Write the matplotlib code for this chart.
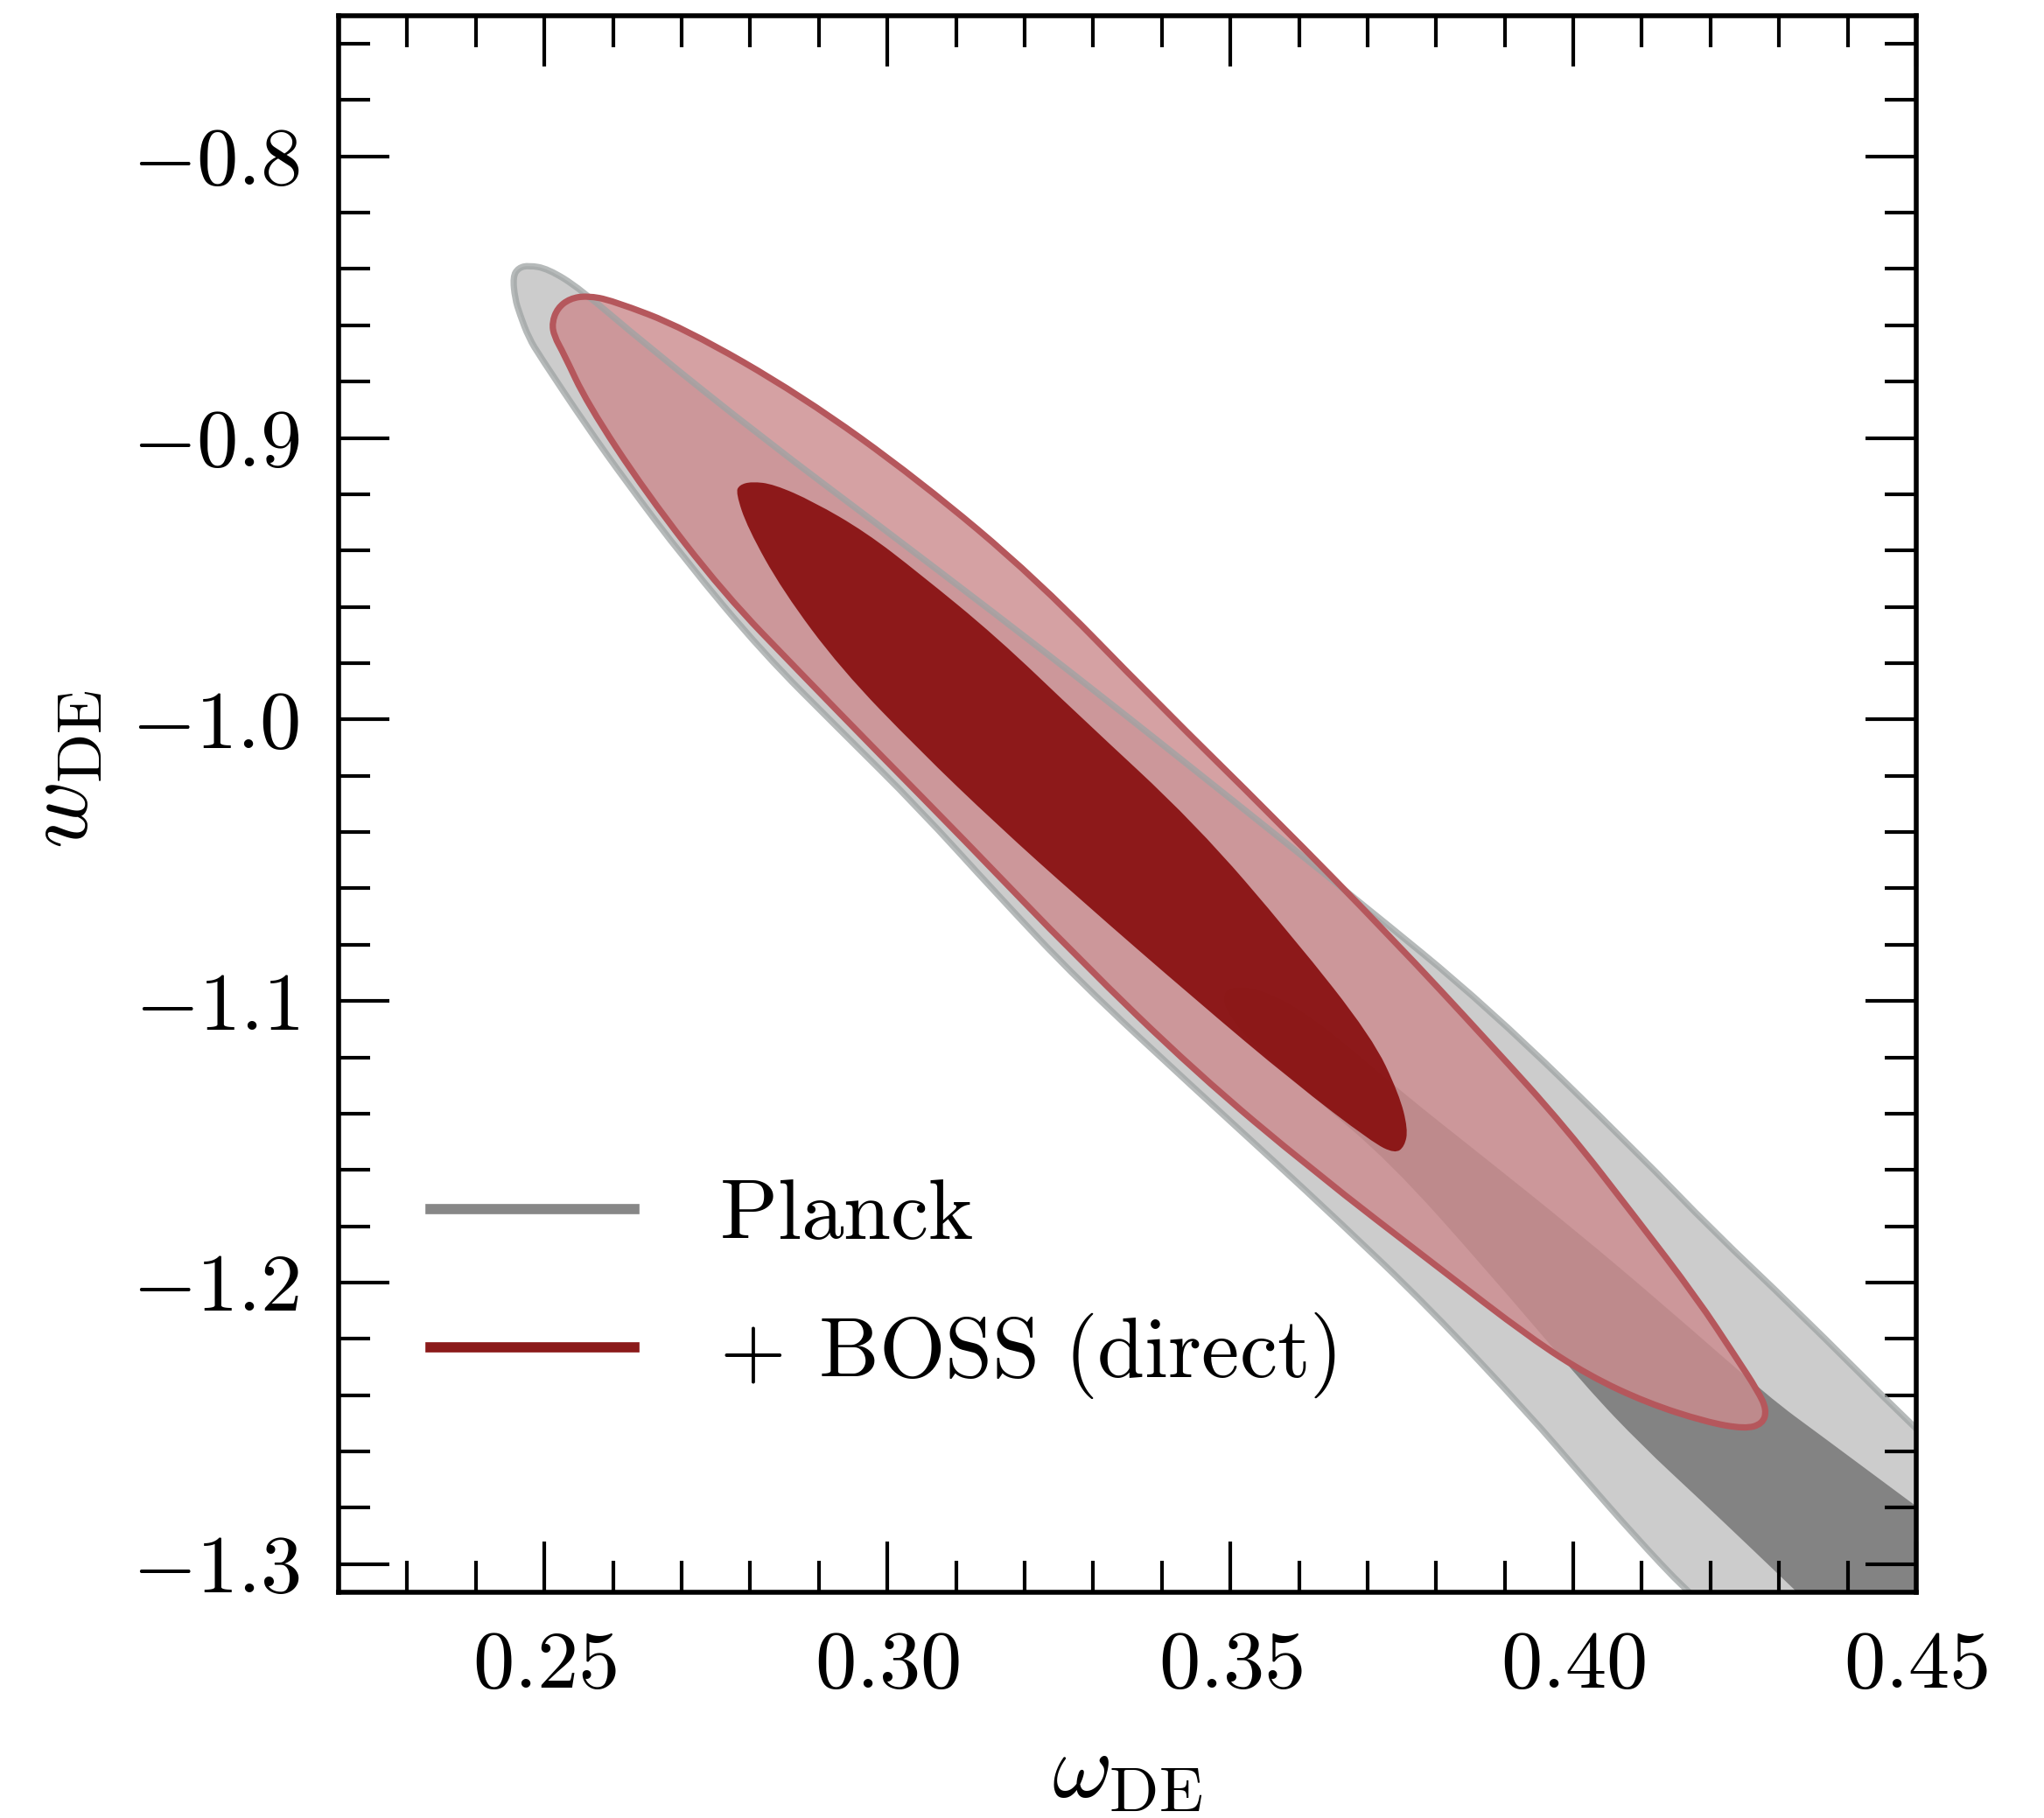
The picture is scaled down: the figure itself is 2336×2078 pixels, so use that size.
import matplotlib
matplotlib.use("Agg")
import matplotlib.pyplot as plt
from matplotlib.ticker import MultipleLocator
from matplotlib.lines import Line2D
from matplotlib.path import Path
from matplotlib.patches import PathPatch

plt.rcParams['mathtext.fontset'] = 'cm'
plt.rcParams['font.family'] = 'serif'
plt.rcParams['font.serif'] = ['cmr10', 'DejaVu Serif']
plt.rcParams['axes.formatter.use_mathtext'] = True

# contour outlines, (omega_DE, w_DE)
planck_95_x = [0.2454, 0.2462, 0.2477, 0.2505, 0.2551, 0.2648, 0.2818, 0.2989, 0.3159,
               0.3307, 0.3491, 0.3682, 0.3876, 0.4096, 0.4205, 0.4320, 0.4499, 0.4575,
               0.4575, 0.4250, 0.4165, 0.4090, 0.4015, 0.3935, 0.3790, 0.3657, 0.3564,
               0.3450, 0.3279, 0.3159, 0.3046, 0.2932, 0.2818, 0.2704, 0.2619, 0.2562,
               0.2494, 0.2477, 0.2464, 0.2457]
planck_95_y = [-0.8427, -0.8396, -0.8387, -0.8399, -0.8468, -0.8669, -0.9000, -0.9313, -0.9628,
               -0.9907, -1.0263, -1.0635, -1.1022, -1.1545, -1.1820, -1.2085, -1.2520, -1.2690,
               -1.3350, -1.3282, -1.3096, -1.2901, -1.2693, -1.2467, -1.2090, -1.1780, -1.1570,
               -1.1316, -1.0929, -1.0619, -1.0316, -1.0040, -0.9762, -0.9430, -0.9155, -0.8960,
               -0.8712, -0.8644, -0.8560, -0.8505]

planck_68_x = [0.3489, 0.3497, 0.3542, 0.3619, 0.3746, 0.3874, 0.4001, 0.4129, 0.4286,
               0.4362, 0.4495, 0.4575, 0.4575, 0.4375, 0.4322, 0.4262, 0.4182, 0.4100,
               0.4020, 0.3874, 0.3733, 0.3619, 0.3529, 0.3497]
planck_68_y = [-1.0991, -1.0950, -1.0954, -1.1053, -1.1316, -1.1563, -1.1811, -1.2074, -1.2409,
               -1.2545, -1.2786, -1.2929, -1.3350, -1.3214, -1.3090, -1.2950, -1.2765, -1.2579,
               -1.2375, -1.1957, -1.1573, -1.1337, -1.1146, -1.1046]

boss_95_x = [0.2511, 0.2519, 0.2537, 0.2562, 0.2598, 0.2704, 0.2875, 0.3046, 0.3217,
             0.3393, 0.3564, 0.3735, 0.3878, 0.3989, 0.4091, 0.4180, 0.4237, 0.4269,
             0.4282, 0.4276, 0.4250, 0.4193, 0.4107, 0.4023, 0.3938, 0.3802, 0.3621,
             0.3450, 0.3279, 0.3108, 0.2989, 0.2875, 0.2761, 0.2648, 0.2562, 0.2528, 0.2514]
boss_95_y = [-0.8591, -0.8539, -0.8505, -0.8495, -0.8511, -0.8610, -0.8850, -0.9150, -0.9500,
             -0.9940, -1.0350, -1.0775, -1.1150, -1.1450, -1.1770, -1.2055, -1.2265, -1.2385,
             -1.2452, -1.2502, -1.2520, -1.2495, -1.2427, -1.2331, -1.2198, -1.1944, -1.1604,
             -1.1254, -1.0851, -1.0418, -1.0124, -0.9839, -0.9551, -0.9195, -0.8876, -0.8700, -0.8638]

boss_68_x = [0.2779, 0.2784, 0.2802, 0.2834, 0.2892, 0.2968, 0.3046, 0.3159, 0.3279,
             0.3450, 0.3592, 0.3707, 0.3746, 0.3759, 0.3754, 0.3740, 0.3707, 0.3592,
             0.3450, 0.3279, 0.3159, 0.3046, 0.2932, 0.2847, 0.2796]
boss_68_y = [-0.9195, -0.9167, -0.9155, -0.9164, -0.9226, -0.9334, -0.9480, -0.9706, -0.9985,
             -1.0372, -1.0774, -1.1130, -1.1331, -1.1455, -1.1517, -1.1542, -1.1502, -1.1288,
             -1.0997, -1.0635, -1.0372, -1.0108, -0.9820, -0.9542, -0.9319]

labels = [r'$\mathrm{Planck}$', r'$+\;\,\mathrm{BOSS\ (direct)}$']


def outline(xs, ys):
    # closed outline through the read points, drawn with quadratic curves
    pts = list(zip(xs, ys))
    n = len(pts)
    mids = [((pts[i][0] + pts[(i + 1) % n][0]) / 2, (pts[i][1] + pts[(i + 1) % n][1]) / 2)
            for i in range(n)]
    verts = [mids[-1]]
    codes = [Path.MOVETO]
    for i in range(n):
        verts += [pts[i], mids[i]]
        codes += [Path.CURVE3, Path.CURVE3]
    verts.append(mids[-1])
    codes.append(Path.CLOSEPOLY)
    return Path(verts, codes)


fig = plt.figure(figsize=(11.68, 10.39), dpi=200)
ax = fig.add_axes([0.1657, 0.1242, 0.7718, 0.8672])

p95 = outline(planck_95_x, planck_95_y)
p68 = outline(planck_68_x, planck_68_y)
b95 = outline(boss_95_x, boss_95_y)
b68 = outline(boss_68_x, boss_68_y)

ax.add_patch(PathPatch(p95, facecolor='#cccccc', edgecolor='none', zorder=1))
ax.add_patch(PathPatch(p68, facecolor='#838383', edgecolor='none', zorder=1.1))
ax.add_patch(PathPatch(b95, facecolor=(0.80, 0.55, 0.56), alpha=0.82,
                       edgecolor='none', zorder=2))
ax.add_patch(PathPatch(p95, facecolor='none', edgecolor='#9ea3a3', lw=2.6,
                       alpha=0.75, zorder=2.5))
ax.add_patch(PathPatch(b95, facecolor='none', edgecolor='#b5575c', lw=2.6, zorder=3))
ax.add_patch(PathPatch(b68, facecolor=(0.52, 0.03, 0.03), alpha=0.88,
                       edgecolor='none', zorder=4))

ax.set_xlim(0.22, 0.45)
ax.set_ylim(-1.31, -0.75)

ax.xaxis.set_major_locator(MultipleLocator(0.05))
ax.xaxis.set_minor_locator(MultipleLocator(0.01))
ax.yaxis.set_major_locator(MultipleLocator(0.1))
ax.yaxis.set_minor_locator(MultipleLocator(0.02))
ax.tick_params(which='both', direction='in', top=True, right=True, width=1.5)
ax.tick_params(which='major', length=21, labelsize=34, pad=16)
ax.tick_params(which='minor', length=13)
for s in ax.spines.values():
    s.set_linewidth(2.0)

ax.set_xlabel(r'$\omega_{\rm DE}$', fontsize=38)
ax.set_ylabel(r'$w_{\rm DE}$', fontsize=38)
ax.xaxis.set_label_coords(0.5, -0.089)
ax.yaxis.set_label_coords(-0.1485, 0.522)

handles = [Line2D([], [], color='#878787', lw=4.2),
           Line2D([], [], color='#8b1a1a', lw=4.2)]
ax.legend(handles, labels, loc='upper left', bbox_to_anchor=(0.058, 0.262), frameon=False,
          fontsize=35, handlelength=2.4, handletextpad=1.0, labelspacing=0.65,
          borderpad=0, borderaxespad=0)

fig.savefig('out.png', dpi=200)
